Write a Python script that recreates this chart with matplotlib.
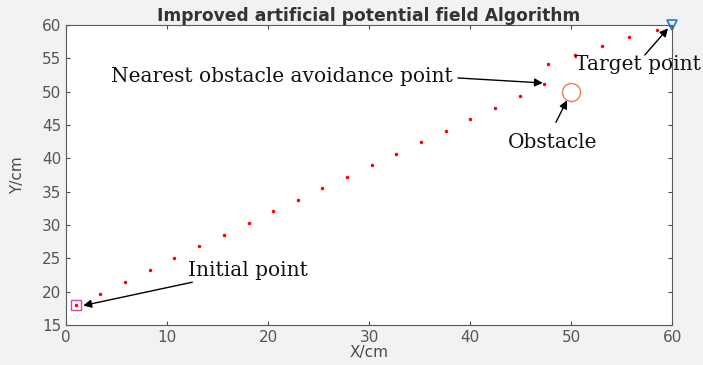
import matplotlib.pyplot as plt
import numpy as np

# path points of the improved APF planner (cm)
path_x = [1.0, 3.4, 5.8, 8.3, 10.7, 13.2, 15.6, 18.1, 20.5, 23.0, 25.3, 27.8,
          30.3, 32.7, 35.1, 37.6, 40.0, 42.5, 44.9, 47.3, 47.7, 50.4, 53.1,
          55.7, 58.5, 59.8]
path_y = [18.0, 19.6, 21.4, 23.2, 25.0, 26.8, 28.5, 30.3, 32.1, 33.8, 35.5, 37.2,
          39.0, 40.6, 42.4, 44.1, 45.9, 47.6, 49.3, 51.1, 54.1, 55.5, 56.8,
          58.2, 59.3, 60.0]
start = (1, 18)
goal = (60, 60)
obstacle = (50, 50)

bg = '#f1f2f4'
fig = plt.figure(figsize=(7.03, 3.65), dpi=100, facecolor=bg)
ax = fig.add_axes([0.094, 0.11, 0.862, 0.8215])

ax.plot(path_x, path_y, 'r.', markersize=3, linestyle='none')
ax.plot(*start, 's', mfc='none', mec='#e040b0', markersize=7, mew=1)
ax.plot(*goal, 'v', mfc='none', mec='#1f77d4', markersize=7, mew=1.2,
        clip_on=False)
ax.plot(*obstacle, 'o', mfc='none', mec='#e8804a', markersize=13, mew=1)

ax.set_xlim(0, 60)
ax.set_ylim(15, 60)
ax.set_xticks(np.arange(0, 61, 10))
ax.set_yticks(np.arange(15, 61, 5))
ax.tick_params(direction='in', top=True, right=True, labelsize=11,
               labelcolor='#555555', color='#4a4a4a', length=3)
for s in ax.spines.values():
    s.set_color('#5a5a5a')
    s.set_linewidth(0.8)

ax.set_xlabel('X/cm', fontsize=11, color='#4a4a4a', labelpad=0)
ax.set_ylabel('Y/cm', fontsize=11, color='#4a4a4a', labelpad=12)
ax.set_title('Improved artificial potential field Algorithm', fontsize=12.3,
             fontweight='bold', color='#333333', pad=3)

serif = dict(family='DejaVu Serif', fontsize=14.5, color='#111111', va='center')
arrow = dict(arrowstyle='-|>', color='black', lw=1, mutation_scale=12,
             shrinkA=0, shrinkB=0)

labels = [
    ('Nearest obstacle avoidance point', (4.4, 52.2), (38.8, 52.05), (47.2, 51.3)),
    ('Target point', (50.4, 54.0), (57.3, 55.5), (59.6, 59.5)),
    ('Obstacle', (43.7, 42.3), (48.5, 45.4), (49.6, 48.7)),
    ('Initial point', (12.1, 23.1), (12.5, 21.4), (1.7, 17.9)),
]
for txt, pos, a0, a1 in labels:
    ax.text(pos[0], pos[1], txt, **serif)
    ax.annotate('', xy=a1, xytext=a0, arrowprops=arrow)

fig.savefig('out.png', dpi=100, facecolor=bg)
